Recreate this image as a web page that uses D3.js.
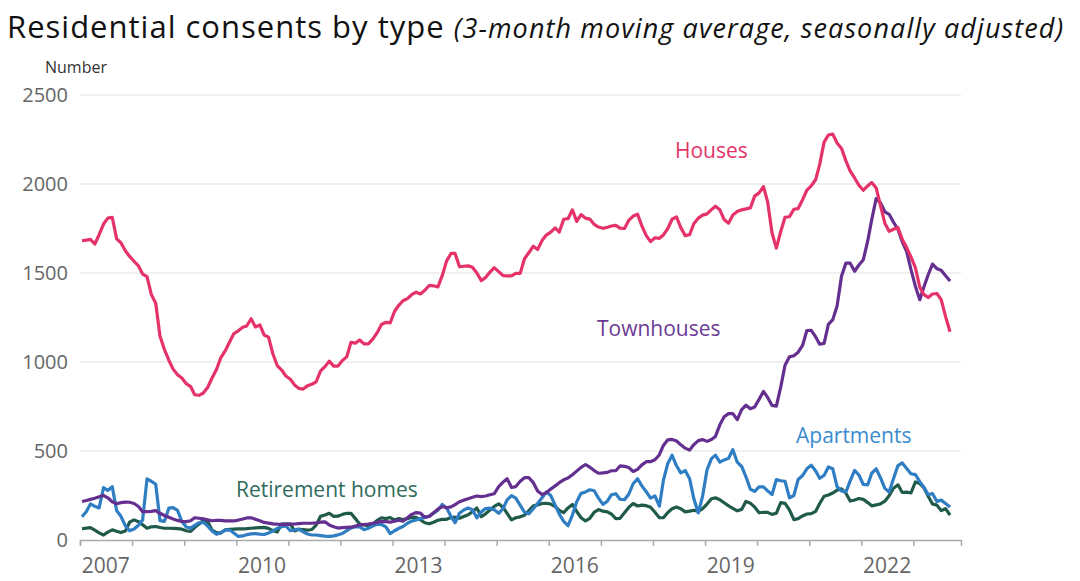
<!DOCTYPE html>
<html>
<head>
<meta charset="utf-8">
<script src="https://cdn.jsdelivr.net/npm/d3@7"></script>
<style>
  body { margin: 0; background: #fff; }
  text { font-family: "Open Sans", "Noto Sans", sans-serif; }
</style>
</head>
<body>
<div id="chart"></div>
<script>
// monthly values, Jan 2007 .. Sep 2023
const startYear = 2007;

const houses = [
  1681,1685,1689,1663,1715,1775,1808,1813,1692,1670,1625,1593,
  1566,1540,1494,1480,1380,1330,1145,1070,1010,960,928,910,
  878,862,816,813,826,858,910,958,1025,1062,1112,1160,
  1175,1195,1202,1243,1197,1208,1152,1140,1045,980,955,921,
  903,870,852,848,866,875,889,950,974,1005,977,977,
  1008,1030,1110,1106,1124,1102,1102,1128,1165,1211,1223,1220,
  1285,1320,1344,1356,1378,1392,1382,1403,1430,1428,1422,1485,
  1568,1610,1610,1535,1538,1540,1532,1500,1457,1475,1505,1530,
  1508,1485,1484,1484,1498,1498,1580,1615,1650,1632,1682,1713,
  1730,1753,1730,1802,1805,1855,1790,1828,1808,1803,1773,1758,
  1751,1757,1764,1768,1752,1750,1795,1820,1830,1765,1710,1676,
  1698,1695,1714,1750,1802,1815,1755,1710,1715,1778,1808,1825,
  1832,1856,1875,1855,1800,1780,1826,1845,1855,1860,1866,1932,
  1950,1985,1900,1725,1640,1733,1813,1816,1858,1862,1912,1965,
  1990,2025,2110,2235,2275,2280,2230,2200,2130,2072,2034,1993,
  1965,1990,2008,1978,1880,1780,1734,1746,1755,1690,1643,1590,
  1530,1420,1380,1362,1382,1385,1350,1255,1170
];

const townhouses = [
  216,222,228,235,243,250,237,215,204,210,213,212,
  205,188,159,159,161,165,150,138,128,118,110,104,
  103,108,125,122,119,113,108,111,110,107,107,107,
  112,118,124,125,117,108,99,95,91,89,88,88,
  89,90,92,94,94,94,96,100,102,84,74,67,
  70,71,72,78,84,87,90,94,100,105,103,100,
  106,111,105,125,144,154,151,128,132,153,173,188,
  181,186,199,215,224,232,240,247,244,247,254,260,
  300,325,345,295,300,330,350,350,322,275,255,266,
  286,304,322,338,348,367,387,408,424,409,390,375,
  377,380,389,389,416,414,407,385,397,422,440,440,
  451,479,531,563,565,556,535,516,505,536,558,564,
  554,565,582,647,692,710,710,676,733,757,738,747,
  790,835,801,756,752,860,982,1029,1035,1055,1093,1177,
  1178,1141,1100,1105,1211,1238,1315,1482,1556,1555,1510,1545,
  1575,1680,1800,1918,1895,1844,1830,1785,1745,1675,1620,1520,
  1426,1350,1420,1490,1550,1524,1515,1485,1455
];

const apartments = [
  131,160,203,189,180,294,278,300,165,133,80,52,
  62,83,112,343,330,313,109,105,179,182,166,105,
  73,67,82,97,99,78,51,32,41,56,56,39,
  20,23,30,34,36,33,31,39,51,65,75,79,
  52,57,61,46,34,28,28,25,22,20,23,29,
  37,52,68,75,74,58,66,78,88,87,74,36,
  52,66,76,94,106,112,120,127,134,150,168,200,
  180,132,97,150,169,180,170,125,158,177,179,170,
  150,177,225,249,235,195,156,147,176,205,237,270,
  250,196,145,105,80,140,215,262,270,282,277,235,
  200,218,254,260,229,226,257,316,344,304,271,235,
  248,190,335,430,476,417,377,390,344,230,152,247,
  394,457,477,437,450,459,507,437,413,355,285,273,
  299,298,276,256,339,333,330,237,250,340,362,400,
  420,388,347,363,410,400,300,275,270,332,391,365,
  312,310,375,400,350,290,270,345,418,433,402,372,
  367,328,297,254,261,216,224,205,185
];

const retirement = [
  63,67,69,55,40,28,44,57,49,42,50,100,
  113,103,86,66,74,76,70,66,66,65,64,61,
  52,48,70,90,111,103,55,41,39,57,60,61,
  62,63,64,66,68,70,71,65,52,45,89,91,
  89,51,60,58,55,59,84,133,141,150,133,134,
  144,150,150,120,90,85,80,90,110,125,120,126,
  113,120,115,120,128,127,113,97,91,100,111,116,
  116,126,128,122,132,142,159,180,131,147,168,189,
  203,183,150,113,125,130,139,165,192,197,205,206,
  202,188,166,154,180,200,160,125,107,122,156,171,
  162,158,146,120,122,153,183,205,191,196,193,184,
  156,125,125,155,175,185,176,158,162,167,161,176,
  202,232,237,226,209,192,178,164,172,217,207,185,
  153,156,155,144,150,210,206,169,114,120,135,146,
  148,161,205,246,253,264,280,287,263,219,225,233,
  228,210,192,197,203,218,249,291,310,267,269,264,
  326,317,295,246,202,196,165,176,140
];

const yTicks = [0, 500, 1000, 1500, 2000, 2500];
const yearLabels = [2007, 2010, 2013, 2016, 2019, 2022];

const series = [
  { name: 'Houses', values: houses, color: '#e5336a', label: '#e5336a', lx: 675, ly: 158 },
  { name: 'Townhouses', values: townhouses, color: '#642f8f', label: '#6b3b93', lx: 597, ly: 336 },
  { name: 'Apartments', values: apartments, color: '#2f7dc3', label: '#3a8bd0', lx: 796, ly: 443 },
  { name: 'Retirement homes', values: retirement, color: '#1f5a4b', label: '#2f6b5b', lx: 236, ly: 497 }
];

const svg = d3.select('#chart')
  .append('svg')
  .attr('width', 1080)
  .attr('height', 581);

const x = d3.scaleTime()
  .domain([new Date(2007, 0, 1), new Date(2023, 11, 1)])
  .range([80, 961]);

const y = d3.scaleLinear()
  .domain([0, 2500])
  .range([540, 95]);

// title
const title = svg.append('text')
  .attr('x', 7)
  .attr('y', 38)
  .attr('fill', '#111');
title.append('tspan')
  .attr('font-size', 31)
  .attr('letter-spacing', 1)
  .text('Residential consents by type ');
title.append('tspan')
  .attr('font-size', 27)
  .attr('font-style', 'italic')
  .attr('letter-spacing', 1.1)
  .text('(3-month moving average, seasonally adjusted)');

svg.append('text')
  .attr('x', 45)
  .attr('y', 73)
  .attr('font-size', 16)
  .attr('fill', '#333')
  .text('Number');

// gridlines + y labels
svg.append('g')
  .selectAll('line')
  .data(yTicks.filter(d => d > 0))
  .enter().append('line')
  .attr('x1', 80)
  .attr('x2', 961)
  .attr('y1', d => y(d))
  .attr('y2', d => y(d))
  .attr('stroke', '#ebebeb')
  .attr('stroke-width', 1.5);

svg.append('g')
  .selectAll('text')
  .data(yTicks)
  .enter().append('text')
  .attr('x', 68)
  .attr('y', d => y(d))
  .attr('dy', '0.36em')
  .attr('text-anchor', 'end')
  .attr('font-size', 20)
  .attr('fill', '#666')
  .text(d => d);

// x axis
const xAxis = svg.append('g')
  .attr('transform', 'translate(0,540)')
  .call(d3.axisBottom(x)
    .ticks(d3.timeYear.every(1))
    .tickSize(6)
    .tickFormat(''));
xAxis.select('.domain').attr('stroke', '#aaa').attr('stroke-width', 1.5);
xAxis.selectAll('.tick line').attr('stroke', '#aaa').attr('stroke-width', 1.5);

svg.append('g')
  .selectAll('text')
  .data(yearLabels)
  .enter().append('text')
  .attr('x', d => x(new Date(d, 6, 1)))
  .attr('y', 573)
  .attr('text-anchor', 'middle')
  .attr('font-size', 21)
  .attr('fill', '#666')
  .text(d => d);

// lines
const line = d3.line()
  .x((d, i) => x(new Date(startYear, i, 15)))
  .y(d => y(d));

const order = [3, 2, 1, 0];
order.forEach(k => {
  const s = series[k];
  svg.append('path')
    .datum(s.values)
    .attr('fill', 'none')
    .attr('stroke', s.color)
    .attr('stroke-width', 3.2)
    .attr('stroke-linejoin', 'round')
    .attr('d', line);
});

svg.append('g')
  .selectAll('text')
  .data(series)
  .enter().append('text')
  .attr('x', d => d.lx)
  .attr('y', d => d.ly)
  .attr('font-size', 21)
  .attr('fill', d => d.label)
  .text(d => d.name);
</script>
</body>
</html>
